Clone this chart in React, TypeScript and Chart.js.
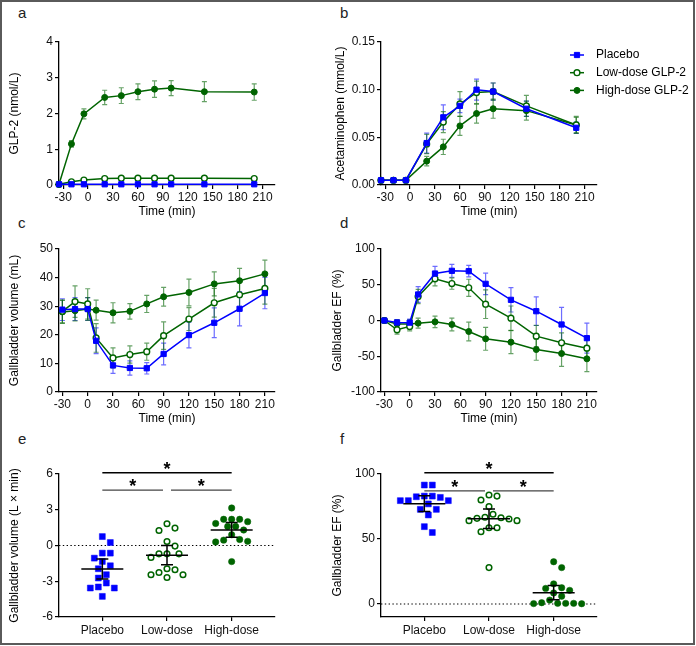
import React, { useEffect, useRef } from 'react';
import { Chart, registerables } from 'chart.js';

Chart.register(...registerables);

const FONT = "'Liberation Sans', Arial, Helvetica, sans-serif";
const BLUE = '#0000ff';
const GREEN = '#006400';
const BLUE_ERR = 'rgba(30,30,255,0.65)';
const GREEN_ERR = 'rgba(0,100,0,0.6)';

// ---------- data ----------
const seriesNames = ['Placebo', 'Low-dose GLP-2', 'High-dose GLP-2'];
const groupLabels = ['Placebo', 'Low-dose', 'High-dose'];

// panels a, b time points (min)
const timeAB = [-35, -20, -5, 20, 40, 60, 80, 100, 140, 200];
const ticksAB = [-30, 0, 30, 60, 90, 120, 150, 180, 210];

// a: GLP-2 (nmol/L)
const glp2Placebo = [0.02, 0.02, 0.02, 0.02, 0.02, 0.02, 0.02, 0.02, 0.02, 0.02];
const glp2PlaceboErr = [0, 0, 0, 0, 0, 0, 0, 0, 0, 0];
const glp2Low = [0.02, 0.09, 0.14, 0.18, 0.19, 0.19, 0.19, 0.19, 0.19, 0.18];
const glp2LowErr = [0, 0.01, 0.015, 0.02, 0.02, 0.02, 0.02, 0.02, 0.02, 0.02];
const glp2High = [0.02, 1.15, 1.99, 2.45, 2.5, 2.61, 2.68, 2.71, 2.61, 2.6];
const glp2HighErr = [0, 0.09, 0.14, 0.2, 0.22, 0.22, 0.23, 0.21, 0.28, 0.23];

// b: Acetaminophen (mmol/L)
const acetPlacebo = [0.005, 0.005, 0.005, 0.044, 0.071, 0.083, 0.1, 0.098, 0.08, 0.06];
const acetPlaceboErr = [0.001, 0.001, 0.001, 0.0105, 0.013, 0.007, 0.011, 0.009, 0.008, 0.006];
const acetLow = [0.005, 0.005, 0.005, 0.043, 0.066, 0.085, 0.097, 0.098, 0.083, 0.063];
const acetLowErr = [0.001, 0.001, 0.001, 0.01, 0.011, 0.013, 0.012, 0.009, 0.011, 0.009];
const acetHigh = [0.005, 0.005, 0.005, 0.025, 0.04, 0.062, 0.075, 0.08, 0.078, 0.063];
const acetHighErr = [0.001, 0.001, 0.001, 0.005, 0.008, 0.01, 0.01, 0.01, 0.01, 0.008];

// panels c, d time points (min)
const timeCD = [-30, -15, 0, 10, 30, 50, 70, 90, 120, 150, 180, 210];
const ticksCD = [-30, 0, 30, 60, 90, 120, 150, 180, 210];

// c: Gallbladder volume (mL)
const volPlacebo = [28.8, 29.0, 29.0, 17.9, 9.3, 8.4, 8.3, 13.3, 19.9, 24.2, 29.1, 34.6];
const volPlaceboErr = [3.8, 4.0, 4.0, 4.5, 2.8, 2.5, 2.0, 3.8, 4.5, 5.2, 6.0, 5.5];
const volLow = [28.2, 31.6, 30.8, 18.9, 11.9, 13.1, 14.1, 19.7, 25.5, 31.2, 34.0, 36.2];
const volLowErr = [4.0, 5.5, 5.3, 5.0, 3.5, 3.0, 3.0, 4.8, 4.0, 5.0, 5.0, 5.5];
const volHigh = [28.0, 28.4, 29.0, 28.6, 27.7, 28.2, 30.8, 33.3, 34.8, 37.8, 38.9, 41.3];
const volHighErr = [4.0, 3.5, 4.0, 3.5, 3.5, 2.7, 3.0, 3.3, 4.7, 4.2, 4.3, 4.8];

// d: Gallbladder EF (%)
const efPlacebo = [0, -2.8, -3, 36.4, 65.7, 69.5, 69, 51.3, 28.9, 13, -5.6, -24.7];
const efPlaceboErr = [2, 4, 5, 11, 10, 9, 8, 15, 17, 20, 24, 21];
const efLow = [0, -13, -8.4, 33.6, 58.3, 51.7, 45.7, 22.8, 3.3, -21.9, -31.2, -38.7];
const efLowErr = [2, 6, 6, 10, 10, 8, 12, 20, 17, 15, 14, 16];
const efHigh = [0, -5, -5, -3.7, -1.9, -5.6, -15.4, -25.6, -30.3, -40.6, -46.2, -53.6];
const efHighErr = [2, 6, 6, 7, 8, 9, 13, 16, 16, 15, 18, 18];

// e: Gallbladder volume AUC (L x min), individual subjects
const aucPlacebo = [0.75, 0.25, -0.64, -0.64, -1.06, -1.34, -1.7, -1.95, -2.45, -2.73, -3.15, -3.48, -3.57, -3.57, -4.27];
const aucLow = [1.82, 1.46, 1.26, 0.33, -0.05, -0.7, -0.7, -0.7, -1.0, -1.95, -2.03, -2.26, -2.45, -2.45, -2.68];
const aucHigh = [3.15, 2.2, 2.2, 2.2, 2.0, 1.85, 1.6, 1.6, 1.3, 0.9, 0.5, 0.45, 0.35, 0.3, -1.35];
const aucMean = [-1.98, -0.81, 1.31];
const aucErr = [0.84, 0.81, 0.61];
const aucSig = [
  { from: 1, to: 3, y: 6.1 },
  { from: 1, to: 2, y: 4.65 },
  { from: 2, to: 3, y: 4.65 },
];

// f: Gallbladder EF (%), individual subjects
const gefPlacebo = [91.5, 91.5, 83, 83, 82.5, 82, 79.5, 79.5, 79.5, 77, 72.8, 72.8, 68.5, 59.5, 55];
const gefLow = [83.8, 83, 80, 74.9, 69, 66.7, 66.4, 65.9, 65.4, 64.1, 64.1, 58.7, 58.7, 55.6, 28];
const gefHigh = [32.5, 28, 15.5, 12.5, 12, 10.5, 8.5, 6, 3, 1, 0.5, 0.5, 0.5, 0.3, 0.2];
const gefMean = [77.2, 65.6, 8.7];
const gefErr = [6, 7.5, 5.5];
const gefSig = [
  { from: 1, to: 3, y: 101 },
  { from: 1, to: 2, y: 87 },
  { from: 2, to: 3, y: 87 },
];

// ---------- layout ----------
type Spec = { left: number; top: number; width: number; height: number; yW: number; xH: number; padTop: number; padRight: number; titleX: number };
const LAYOUT: Record<string, Spec> = {
  a: { left: 0, top: 30, width: 285, height: 195, yW: 59, xH: 40, padTop: 12, padRight: 10, titleX: 15 },
  b: { left: 326, top: 30, width: 366, height: 195, yW: 55, xH: 40, padTop: 12, padRight: 95, titleX: 15 },
  c: { left: 0, top: 237, width: 285, height: 195, yW: 59, xH: 40, padTop: 12, padRight: 10, titleX: 15 },
  d: { left: 326, top: 237, width: 290, height: 195, yW: 55, xH: 40, padTop: 12, padRight: 19, titleX: 12 },
  e: { left: 0, top: 462, width: 285, height: 178, yW: 59, xH: 23, padTop: 12, padRight: 10, titleX: 15 },
  f: { left: 326, top: 462, width: 290, height: 178, yW: 55, xH: 23, padTop: 12, padRight: 19, titleX: 12 },
};

const LETTERS = [
  { t: 'a', x: 18, y: 5 },
  { t: 'b', x: 340, y: 5 },
  { t: 'c', x: 18, y: 215 },
  { t: 'd', x: 340, y: 215 },
  { t: 'e', x: 18, y: 431 },
  { t: 'f', x: 340, y: 431 },
];

// ---------- plugins ----------
const errorBarPlugin = {
  id: 'errorBars',
  beforeDatasetsDraw(chart: any) {
    const { ctx } = chart;
    const ys = chart.scales.y;
    chart.data.datasets.forEach((ds: any, i: number) => {
      if (!ds.errors) return;
      const meta = chart.getDatasetMeta(i);
      ctx.save();
      ctx.strokeStyle = ds.errorColor;
      ctx.lineWidth = 1.2;
      meta.data.forEach((pt: any, j: number) => {
        const e = ds.errors[j];
        if (!e) return;
        const v = ds.data[j].y;
        const y1 = ys.getPixelForValue(v + e);
        const y2 = ys.getPixelForValue(v - e);
        const x = pt.x;
        ctx.beginPath();
        ctx.moveTo(x, y1); ctx.lineTo(x, y2);
        ctx.moveTo(x - 2.5, y1); ctx.lineTo(x + 2.5, y1);
        ctx.moveTo(x - 2.5, y2); ctx.lineTo(x + 2.5, y2);
        ctx.stroke();
      });
      ctx.restore();
    });
  },
};

const yTitlePlugin = {
  id: 'yTitle',
  afterDraw(chart: any, _a: any, opts: any) {
    if (!opts || !opts.text) return;
    const { ctx, chartArea } = chart;
    ctx.save();
    ctx.translate(opts.x, (chartArea.top + chartArea.bottom) / 2);
    ctx.rotate(-Math.PI / 2);
    ctx.font = `12px ${FONT}`;
    ctx.fillStyle = '#000';
    ctx.textAlign = 'center';
    ctx.textBaseline = 'middle';
    ctx.fillText(opts.text, 0, 0);
    ctx.restore();
  },
};

const sideLegendPlugin = {
  id: 'sideLegend',
  afterDraw(chart: any, _a: any, opts: any) {
    if (!opts || !opts.show) return;
    const { ctx } = chart;
    chart.data.datasets.forEach((ds: any, i: number) => {
      const y = opts.y0 + i * opts.dy;
      ctx.save();
      ctx.strokeStyle = ds.borderColor;
      ctx.lineWidth = 1.5;
      ctx.beginPath(); ctx.moveTo(opts.x0, y); ctx.lineTo(opts.x1, y); ctx.stroke();
      const cx = (opts.x0 + opts.x1) / 2;
      ctx.fillStyle = ds.pointBackgroundColor;
      ctx.lineWidth = ds.pointBorderWidth;
      if (ds.pointStyle === 'rect') {
        const s = ds.pointRadius * Math.SQRT1_2;
        ctx.beginPath(); ctx.rect(cx - s, y - s, 2 * s, 2 * s); ctx.fill(); ctx.stroke();
      } else {
        ctx.beginPath(); ctx.arc(cx, y, ds.pointRadius, 0, Math.PI * 2); ctx.fill(); ctx.stroke();
      }
      ctx.fillStyle = '#000';
      ctx.font = `12px ${FONT}`;
      ctx.textAlign = 'left';
      ctx.textBaseline = 'middle';
      ctx.fillText(ds.label, opts.tx, y);
      ctx.restore();
    });
  },
};

const dotSummaryPlugin = {
  id: 'dotSummary',
  beforeDatasetsDraw(chart: any, _a: any, opts: any) {
    if (!opts || !opts.means) return;
    const { ctx, chartArea } = chart;
    const y = chart.scales.y.getPixelForValue(0);
    ctx.save();
    ctx.setLineDash([1.4, 2.4]);
    ctx.strokeStyle = '#000';
    ctx.lineWidth = 1.2;
    ctx.beginPath(); ctx.moveTo(chartArea.left, y); ctx.lineTo(chartArea.right, y); ctx.stroke();
    ctx.restore();
  },
  afterDatasetsDraw(chart: any, _a: any, opts: any) {
    if (!opts || !opts.means) return;
    const { ctx } = chart;
    const xs = chart.scales.x;
    const ys = chart.scales.y;
    ctx.save();
    ctx.strokeStyle = '#000';
    ctx.lineWidth = 1.5;
    opts.means.forEach((m: number, i: number) => {
      const x = xs.getPixelForValue(i + 1);
      const ym = ys.getPixelForValue(m);
      const y1 = ys.getPixelForValue(m + opts.errs[i]);
      const y2 = ys.getPixelForValue(m - opts.errs[i]);
      ctx.beginPath();
      ctx.moveTo(x - opts.meanHalf, ym); ctx.lineTo(x + opts.meanHalf, ym);
      ctx.moveTo(x, y1); ctx.lineTo(x, y2);
      ctx.moveTo(x - opts.capHalf, y1); ctx.lineTo(x + opts.capHalf, y1);
      ctx.moveTo(x - opts.capHalf, y2); ctx.lineTo(x + opts.capHalf, y2);
      ctx.stroke();
    });
    ctx.restore();
    // significance bars
    const sig = opts.sig || [];
    sig.forEach((s: any, k: number) => {
      let x1 = xs.getPixelForValue(s.from);
      let x2 = xs.getPixelForValue(s.to);
      sig.forEach((o: any, m: number) => {
        if (m === k || o.y !== s.y) return;
        if (o.from === s.to || o.to === s.to) x2 -= opts.gap;
        if (o.to === s.from || o.from === s.from) x1 += opts.gap;
      });
      const y = ys.getPixelForValue(s.y);
      ctx.save();
      ctx.strokeStyle = k === 0 ? '#000' : '#444';
      ctx.lineWidth = 1.4;
      ctx.beginPath(); ctx.moveTo(x1, y); ctx.lineTo(x2, y); ctx.stroke();
      ctx.fillStyle = '#000';
      ctx.font = `bold 18px ${FONT}`;
      ctx.textAlign = 'center';
      ctx.textBaseline = 'alphabetic';
      ctx.fillText('*', (x1 + x2) / 2, y + 2);
      ctx.restore();
    });
  },
};

// ---------- builders ----------
function linScale(axis: 'x' | 'y', spec: Spec, o: any) {
  return {
    type: 'linear',
    position: axis === 'x' ? 'bottom' : 'left',
    min: o.min,
    max: o.max,
    afterBuildTicks: (s: any) => {
      s.ticks = o.ticks.map((v: number) => ({ value: v }));
    },
    afterFit: (s: any) => {
      if (axis === 'x') s.height = spec.xH; else s.width = spec.yW;
      s.paddingLeft = 0; s.paddingRight = 0; s.paddingTop = 0; s.paddingBottom = 0;
    },
    grid: { display: true, drawOnChartArea: false, drawTicks: true, tickLength: 4, color: '#000', lineWidth: 1.2 },
    border: { display: true, color: '#000', width: 1.3 },
    ticks: {
      autoSkip: false, maxRotation: 0, minRotation: 0,
      padding: o.tickPad ?? 2,
      color: '#111',
      font: { family: FONT, size: 12 },
      callback: o.fmt || ((v: number) => String(v)),
    },
    title: o.title
      ? { display: true, text: o.title, color: '#000', font: { family: FONT, size: 12 }, padding: { top: 0, bottom: 6 } }
      : { display: false },
  };
}

const STYLES = [
  { color: BLUE, err: BLUE_ERR, pointStyle: 'rect', radius: 3.7, fill: BLUE, bw: 1 },
  { color: GREEN, err: GREEN_ERR, pointStyle: 'circle', radius: 2.9, fill: '#ffffff', bw: 1.4 },
  { color: GREEN, err: GREEN_ERR, pointStyle: 'circle', radius: 3.0, fill: GREEN, bw: 1 },
];

function timeCourseConfig(spec: Spec, times: number[], vals: number[][], errs: number[][], xo: any, yo: any, yTitle: string, legend: boolean) {
  return {
    type: 'line',
    data: {
      datasets: vals.map((v, i) => ({
        label: seriesNames[i],
        data: times.map((t, j) => ({ x: t, y: v[j] })),
        errors: errs[i],
        errorColor: STYLES[i].err,
        borderColor: STYLES[i].color,
        backgroundColor: STYLES[i].fill,
        borderWidth: 1.5,
        pointStyle: STYLES[i].pointStyle,
        pointRadius: STYLES[i].radius,
        pointBackgroundColor: STYLES[i].fill,
        pointBorderColor: STYLES[i].color,
        pointBorderWidth: STYLES[i].bw,
        tension: 0,
        fill: false,
        clip: false,
      })),
    },
    options: {
      responsive: false,
      animation: false,
      devicePixelRatio: 1,
      layout: { padding: { top: spec.padTop, right: spec.padRight, left: 0, bottom: 0 } },
      scales: {
        x: linScale('x', spec, xo),
        y: linScale('y', spec, yo),
      },
      plugins: {
        legend: { display: false },
        tooltip: { enabled: false },
        yTitle: { text: yTitle, x: spec.titleX },
        sideLegend: legend ? { show: true, x0: 244, x1: 258, tx: 270, y0: 25, dy: 17.7 } : { show: false },
      },
    },
    plugins: [errorBarPlugin, yTitlePlugin, sideLegendPlugin],
  };
}

function swarm(values: number[], group: number, pxX: number, pxY: number, d: number) {
  const placed: { px: number; py: number }[] = [];
  const order = values.map((_, i) => i).sort((a, b) => values[b] - values[a]);
  const res: { x: number; y: number }[] = new Array(values.length);
  for (const i of order) {
    const py = values[i] * pxY;
    let off = 0;
    for (let k = 0; k < 80; k++) {
      const cand = k === 0 ? 0 : (k % 2 === 1 ? 1 : -1) * Math.ceil(k / 2) * (d / 2);
      if (placed.every((p) => (p.px - cand) ** 2 + (p.py - py) ** 2 >= d * d)) { off = cand; break; }
    }
    placed.push({ px: off, py });
    res[i] = { x: group + off / pxX, y: values[i] };
  }
  return res;
}

function dotPlotConfig(spec: Spec, groups: number[][], means: number[], errs: number[], sig: any[], yo: any, yTitle: string) {
  const xMin = 0.33, xMax = 3.67;
  const areaW = spec.width - spec.padRight - spec.yW;
  const areaH = spec.height - spec.padTop - spec.xH;
  const pxX = areaW / (xMax - xMin);
  const pxY = areaH / (yo.max - yo.min);
  const dotStyles = [
    { pointStyle: 'rect', radius: 4.2, fill: BLUE, color: BLUE, bw: 0.5 },
    { pointStyle: 'circle', radius: 2.8, fill: '#ffffff', color: GREEN, bw: 1.5 },
    { pointStyle: 'circle', radius: 3.2, fill: GREEN, color: GREEN, bw: 0.5 },
  ];
  return {
    type: 'scatter',
    data: {
      datasets: groups.map((g, i) => ({
        label: groupLabels[i],
        data: swarm(g, i + 1, pxX, pxY, 8),
        pointStyle: dotStyles[i].pointStyle,
        pointRadius: dotStyles[i].radius,
        pointBackgroundColor: dotStyles[i].fill,
        pointBorderColor: dotStyles[i].color,
        pointBorderWidth: dotStyles[i].bw,
        clip: false,
      })),
    },
    options: {
      responsive: false,
      animation: false,
      devicePixelRatio: 1,
      layout: { padding: { top: spec.padTop, right: spec.padRight, left: 0, bottom: 0 } },
      scales: {
        x: linScale('x', spec, { min: xMin, max: xMax, ticks: [1, 2, 3], fmt: (v: number) => groupLabels[v - 1] || '', tickPad: 2 }),
        y: linScale('y', spec, yo),
      },
      plugins: {
        legend: { display: false },
        tooltip: { enabled: false },
        yTitle: { text: yTitle, x: spec.titleX },
        dotSummary: { means, errs, sig, meanHalf: 21, capHalf: 6, gap: 4 },
      },
    },
    plugins: [yTitlePlugin, dotSummaryPlugin],
  };
}

const CONFIGS: Record<string, () => any> = {
  a: () => timeCourseConfig(LAYOUT.a, timeAB, [glp2Placebo, glp2Low, glp2High], [glp2PlaceboErr, glp2LowErr, glp2HighErr],
    { min: -35, max: 225, ticks: ticksAB, title: 'Time (min)', tickPad: 1 },
    { min: 0, max: 4, ticks: [0, 1, 2, 3, 4] }, 'GLP-2 (nmol/L)', false),
  b: () => timeCourseConfig(LAYOUT.b, timeAB, [acetPlacebo, acetLow, acetHigh], [acetPlaceboErr, acetLowErr, acetHighErr],
    { min: -35, max: 225, ticks: ticksAB, title: 'Time (min)', tickPad: 1 },
    { min: 0, max: 0.15, ticks: [0, 0.05, 0.1, 0.15], fmt: (v: number) => v.toFixed(2) }, 'Acetaminophen (mmol/L)', true),
  c: () => timeCourseConfig(LAYOUT.c, timeCD, [volPlacebo, volLow, volHigh], [volPlaceboErr, volLowErr, volHighErr],
    { min: -34, max: 222, ticks: ticksCD, title: 'Time (min)', tickPad: 1 },
    { min: 0, max: 50, ticks: [0, 10, 20, 30, 40, 50] }, 'Gallbladder volume (mL)', false),
  d: () => timeCourseConfig(LAYOUT.d, timeCD, [efPlacebo, efLow, efHigh], [efPlaceboErr, efLowErr, efHighErr],
    { min: -34, max: 222, ticks: ticksCD, title: 'Time (min)', tickPad: 1 },
    { min: -100, max: 100, ticks: [-100, -50, 0, 50, 100] }, 'Gallbladder EF (%)', false),
  e: () => dotPlotConfig(LAYOUT.e, [aucPlacebo, aucLow, aucHigh], aucMean, aucErr, aucSig,
    { min: -6, max: 6, ticks: [-6, -3, 0, 3, 6] }, 'Gallbladder volume (L \u00d7 min)'),
  f: () => dotPlotConfig(LAYOUT.f, [gefPlacebo, gefLow, gefHigh], gefMean, gefErr, gefSig,
    { min: -10, max: 100, ticks: [0, 50, 100] }, 'Gallbladder EF (%)'),
};

function Panel({ id }: { id: string }) {
  const ref = useRef<HTMLCanvasElement>(null);
  const spec = LAYOUT[id];
  useEffect(() => {
    const chart = new Chart(ref.current as HTMLCanvasElement, CONFIGS[id]());
    return () => chart.destroy();
  }, [id]);
  return (
    <canvas
      ref={ref}
      width={spec.width}
      height={spec.height}
      style={{ position: 'absolute', left: spec.left, top: spec.top, width: spec.width, height: spec.height }}
    />
  );
}

export default function App() {
  return (
    <div style={{ position: 'fixed', left: 0, top: 0, width: 696, height: 646, background: '#fff', overflow: 'hidden' }}>
      <div style={{ position: 'absolute', left: 0, top: 0, width: 691, height: 641, border: '2px solid #5a5a5a' }} />
      {LETTERS.map((l) => (
        <div key={l.t} style={{ position: 'absolute', left: l.x, top: l.y, fontFamily: FONT, fontSize: 15, lineHeight: '16px', color: '#222' }}>
          {l.t}
        </div>
      ))}
      {['a', 'b', 'c', 'd', 'e', 'f'].map((id) => (
        <Panel key={id} id={id} />
      ))}
    </div>
  );
}
